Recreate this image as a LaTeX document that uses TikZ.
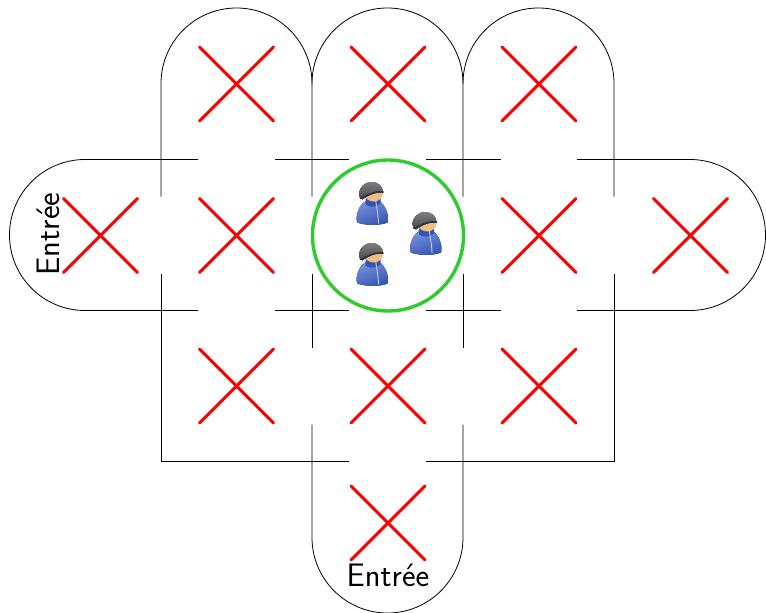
\documentclass[tikz,border=0pt]{standalone}
\usepackage{fontspec}
\definecolor{crossred}{RGB}{255,0,0}
\definecolor{ringgreen}{RGB}{46,204,46}
\definecolor{coatlight}{RGB}{118,146,222}
\definecolor{coatdark}{RGB}{52,84,176}
\definecolor{skin}{RGB}{238,190,130}
\definecolor{hatdark}{RGB}{50,50,55}
\definecolor{hatlight}{RGB}{125,125,130}
\tikzset{
  x=1pt,y=-1pt,
  wall/.style={black,line width=0.8pt},
  crossmark/.pic={\draw[crossred,line width=3pt,line cap=round] (-37,-37)--(37,37) (-37,37)--(37,-37);},
  entrytext/.style={font=\sffamily\fontsize{32.5}{33}\selectfont,text=black,inner sep=0pt},
  person/.pic={
    % coat
    \fill[left color=coatlight,right color=coatdark,shading angle=20]
      (-6,-3) .. controls (-12,0) and (-16,8) .. (-16,16)
      .. controls (-16,19) and (-15,20) .. (-12,20)
      .. controls (-4,22) and (8,22) .. (15,19)
      .. controls (17,12) and (13,1) .. (6,-3) -- cycle;
    % collar
    \fill[coatdark] (-7,-5) -- (8,-8) -- (8,0) .. controls (3,4) and (-3,4) .. (-7,1) -- cycle;
    % zipper
    \draw[coatlight!45!white,line width=0.9pt] (3,-5) .. controls (4,4) and (6,12) .. (6,20);
    % face
    \fill[skin] (-8,-9) -- (11,-12) .. controls (11,-5) and (5,-2) .. (2,-2) .. controls (-3,-2) and (-7,-4) .. (-8,-9) -- cycle;
    % hat
    \fill[top color=hatlight,bottom color=hatdark!90]
      (-13.5,-9) .. controls (-13.5,-17) and (-7,-21.5) .. (-1,-21.5)
      .. controls (6,-21.5) and (10.5,-17) .. (10.5,-11)
      .. controls (4,-12) and (-3,-9) .. (-10,-4)
      .. controls (-12,-4) and (-13.5,-6) .. (-13.5,-9) -- cycle;
    \draw[hatdark,line width=1.6pt,line cap=round] (-12,-5) .. controls (-3,-9.5) and (4,-12.5) .. (10.5,-11.5);
  }
}
\begin{document}
\begin{tikzpicture}
\useasboundingbox (0,0) rectangle (766,613);
\begin{scope}[shift={(0,0.5)}]
% lobes and walls
\draw[wall] (161,196) -- (161,83) arc[start angle=180,end angle=0,radius=75.5pt]
  -- (312,196);
\draw[wall] (312,83) arc[start angle=180,end angle=0,radius=75.5pt] -- (463,196);
\draw[wall] (463,83) arc[start angle=180,end angle=0,radius=75.5pt] -- (614,196);
\draw[wall] (198,159) -- (85,159) arc[start angle=90,end angle=270,radius=75.5pt] -- (198,310);
\draw[wall] (577,159) -- (690,159) arc[start angle=90,end angle=-90,radius=75.5pt] -- (577,310);
\draw[wall] (312,424) -- (312,537) arc[start angle=180,end angle=360,radius=75.5pt] -- (463,424);
\draw[wall] (161,273) -- (161,461) -- (349,461);
\draw[wall] (614,273) -- (614,461) -- (426,461);
\draw[wall] (312,273) -- (312,347);
\draw[wall] (463,273) -- (463,347);
\draw[wall] (275,159) -- (349,159);
\draw[wall] (426,159) -- (501,159);
\draw[wall] (275,310) -- (349,310);
\draw[wall] (426,310) -- (501,310);
% crosses
\pic at (236.5,83.5) {crossmark};
\pic at (388,83.5) {crossmark};
\pic at (539,83.5) {crossmark};
\pic at (100.5,235) {crossmark};
\pic at (236.5,235) {crossmark};
\pic at (539,235) {crossmark};
\pic at (690.5,235) {crossmark};
\pic at (236.5,385.5) {crossmark};
\pic at (388,385.5) {crossmark};
\pic at (539,385.5) {crossmark};
\pic at (388,522.5) {crossmark};
% centre circle
\node[circle,draw=ringgreen,line width=3.4pt,minimum size=151pt,inner sep=0pt,fill=white] (ring) at (388,235) {};
\pic at (372.5,203) {person};
\pic at (426,233) {person};
\pic at (372.5,264) {person};
% labels
\node[entrytext,rotate=90] (west) at (48.5,233.5) {Entrée};
\node[entrytext] (south) at (388,574.5) {Entrée};
\end{scope}
\end{tikzpicture}
\end{document}
